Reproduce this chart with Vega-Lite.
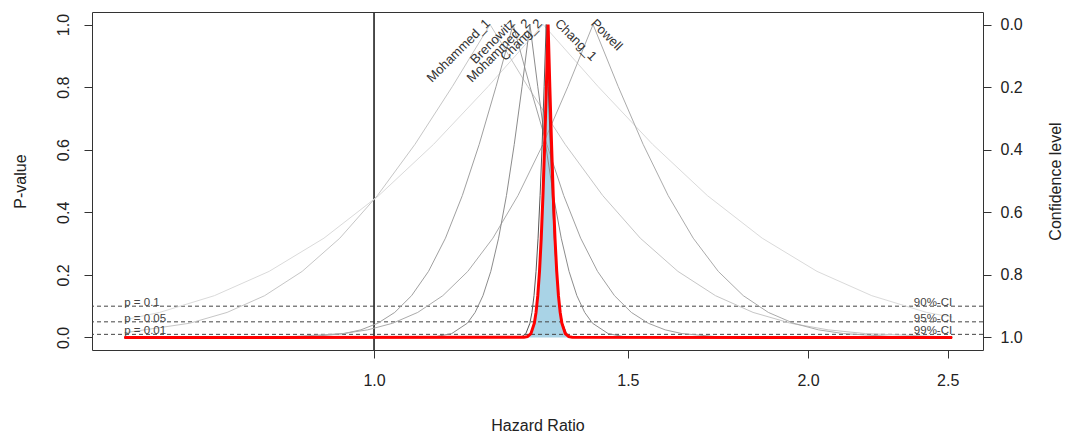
{
  "$schema": "https://vega.github.io/schema/vega-lite/v6.json",
  "width": 891,
  "height": 338,
  "autosize": {"type": "none"},
  "padding": {"left": 92, "top": 12, "right": 84, "bottom": 85},
  "config": {
    "view": {"stroke": "#333333", "strokeWidth": 1},
    "font": "Liberation Sans",
    "axis": {"grid": false, "domain": false, "tickColor": "#333333", "tickSize": 8, "labelColor": "#222222", "titleColor": "#222222", "labelFontSize": 16, "titleFontSize": 16, "titleFontWeight": "normal", "labelFont": "Liberation Sans", "titleFont": "Liberation Sans"}
  },
  "datasets": {
    "curves": [
      {"study": "Chang_1", "hr": 0.671, "p": 0.056},
      {"study": "Chang_1", "hr": 0.71, "p": 0.0801},
      {"study": "Chang_1", "hr": 0.7749, "p": 0.1336},
      {"study": "Chang_1", "hr": 0.8458, "p": 0.2113},
      {"study": "Chang_1", "hr": 0.9231, "p": 0.3173},
      {"study": "Chang_1", "hr": 1.0075, "p": 0.4533},
      {"study": "Chang_1", "hr": 1.0997, "p": 0.6171},
      {"study": "Chang_1", "hr": 1.2002, "p": 0.8026},
      {"study": "Chang_1", "hr": 1.31, "p": 1},
      {"study": "Chang_1", "hr": 1.4298, "p": 0.8026},
      {"study": "Chang_1", "hr": 1.5605, "p": 0.6171},
      {"study": "Chang_1", "hr": 1.7032, "p": 0.4533},
      {"study": "Chang_1", "hr": 1.8589, "p": 0.3173},
      {"study": "Chang_1", "hr": 2.0289, "p": 0.2113},
      {"study": "Chang_1", "hr": 2.2144, "p": 0.1336},
      {"study": "Chang_1", "hr": 2.4169, "p": 0.0801},
      {"study": "Chang_1", "hr": 2.518, "p": 0.065},

      {"study": "Mohammed_1", "hr": 0.671, "p": 0.0149},
      {"study": "Mohammed_1", "hr": 0.7448, "p": 0.0455},
      {"study": "Mohammed_1", "hr": 0.7908, "p": 0.0801},
      {"study": "Mohammed_1", "hr": 0.8397, "p": 0.1336},
      {"study": "Mohammed_1", "hr": 0.8916, "p": 0.2113},
      {"study": "Mohammed_1", "hr": 0.9468, "p": 0.3173},
      {"study": "Mohammed_1", "hr": 1.0053, "p": 0.4533},
      {"study": "Mohammed_1", "hr": 1.0675, "p": 0.6171},
      {"study": "Mohammed_1", "hr": 1.1335, "p": 0.8026},
      {"study": "Mohammed_1", "hr": 1.2036, "p": 1},
      {"study": "Mohammed_1", "hr": 1.278, "p": 0.8026},
      {"study": "Mohammed_1", "hr": 1.357, "p": 0.6171},
      {"study": "Mohammed_1", "hr": 1.441, "p": 0.4533},
      {"study": "Mohammed_1", "hr": 1.53, "p": 0.3173},
      {"study": "Mohammed_1", "hr": 1.6247, "p": 0.2113},
      {"study": "Mohammed_1", "hr": 1.7252, "p": 0.1336},
      {"study": "Mohammed_1", "hr": 1.832, "p": 0.0801},
      {"study": "Mohammed_1", "hr": 1.9452, "p": 0.0455},
      {"study": "Mohammed_1", "hr": 2.0654, "p": 0.0244},
      {"study": "Mohammed_1", "hr": 2.193, "p": 0.0124},
      {"study": "Mohammed_1", "hr": 2.4727, "p": 0.0027},
      {"study": "Mohammed_1", "hr": 2.518, "p": 0.0021},

      {"study": "Brenowitz", "hr": 0.671, "p": 0},
      {"study": "Brenowitz", "hr": 0.8106, "p": 0.0001},
      {"study": "Brenowitz", "hr": 0.8556, "p": 0.0005},
      {"study": "Brenowitz", "hr": 0.903, "p": 0.0027},
      {"study": "Brenowitz", "hr": 0.9531, "p": 0.0124},
      {"study": "Brenowitz", "hr": 0.9792, "p": 0.0244},
      {"study": "Brenowitz", "hr": 1.006, "p": 0.0455},
      {"study": "Brenowitz", "hr": 1.0336, "p": 0.0801},
      {"study": "Brenowitz", "hr": 1.0618, "p": 0.1336},
      {"study": "Brenowitz", "hr": 1.0909, "p": 0.2113},
      {"study": "Brenowitz", "hr": 1.1208, "p": 0.3173},
      {"study": "Brenowitz", "hr": 1.1514, "p": 0.4533},
      {"study": "Brenowitz", "hr": 1.1829, "p": 0.6171},
      {"study": "Brenowitz", "hr": 1.2153, "p": 0.8026},
      {"study": "Brenowitz", "hr": 1.2486, "p": 1},
      {"study": "Brenowitz", "hr": 1.2827, "p": 0.8026},
      {"study": "Brenowitz", "hr": 1.3178, "p": 0.6171},
      {"study": "Brenowitz", "hr": 1.3539, "p": 0.4533},
      {"study": "Brenowitz", "hr": 1.391, "p": 0.3173},
      {"study": "Brenowitz", "hr": 1.429, "p": 0.2113},
      {"study": "Brenowitz", "hr": 1.4682, "p": 0.1336},
      {"study": "Brenowitz", "hr": 1.5083, "p": 0.0801},
      {"study": "Brenowitz", "hr": 1.5496, "p": 0.0455},
      {"study": "Brenowitz", "hr": 1.592, "p": 0.0244},
      {"study": "Brenowitz", "hr": 1.6356, "p": 0.0124},
      {"study": "Brenowitz", "hr": 1.7263, "p": 0.0027},
      {"study": "Brenowitz", "hr": 1.8221, "p": 0.0005},
      {"study": "Brenowitz", "hr": 1.9233, "p": 0.0001},
      {"study": "Brenowitz", "hr": 2.518, "p": 0},

      {"study": "Powell", "hr": 0.671, "p": 0},
      {"study": "Powell", "hr": 0.8104, "p": 0.0005},
      {"study": "Powell", "hr": 0.8779, "p": 0.0027},
      {"study": "Powell", "hr": 0.951, "p": 0.0124},
      {"study": "Powell", "hr": 0.9899, "p": 0.0244},
      {"study": "Powell", "hr": 1.0302, "p": 0.0455},
      {"study": "Powell", "hr": 1.0723, "p": 0.0801},
      {"study": "Powell", "hr": 1.1161, "p": 0.1336},
      {"study": "Powell", "hr": 1.1616, "p": 0.2113},
      {"study": "Powell", "hr": 1.209, "p": 0.3173},
      {"study": "Powell", "hr": 1.2584, "p": 0.4533},
      {"study": "Powell", "hr": 1.3097, "p": 0.6171},
      {"study": "Powell", "hr": 1.3632, "p": 0.8026},
      {"study": "Powell", "hr": 1.4188, "p": 1},
      {"study": "Powell", "hr": 1.4767, "p": 0.8026},
      {"study": "Powell", "hr": 1.537, "p": 0.6171},
      {"study": "Powell", "hr": 1.5997, "p": 0.4533},
      {"study": "Powell", "hr": 1.665, "p": 0.3173},
      {"study": "Powell", "hr": 1.7329, "p": 0.2113},
      {"study": "Powell", "hr": 1.8036, "p": 0.1336},
      {"study": "Powell", "hr": 1.8772, "p": 0.0801},
      {"study": "Powell", "hr": 1.9539, "p": 0.0455},
      {"study": "Powell", "hr": 2.0337, "p": 0.0244},
      {"study": "Powell", "hr": 2.1167, "p": 0.0124},
      {"study": "Powell", "hr": 2.2928, "p": 0.0027},
      {"study": "Powell", "hr": 2.4838, "p": 0.0005},
      {"study": "Powell", "hr": 2.518, "p": 0.0003},

      {"study": "Mohammed_2", "hr": 0.671, "p": 0},
      {"study": "Mohammed_2", "hr": 1.0768, "p": 0.0005},
      {"study": "Mohammed_2", "hr": 1.104, "p": 0.0027},
      {"study": "Mohammed_2", "hr": 1.132, "p": 0.0124},
      {"study": "Mohammed_2", "hr": 1.1606, "p": 0.0455},
      {"study": "Mohammed_2", "hr": 1.1752, "p": 0.0801},
      {"study": "Mohammed_2", "hr": 1.19, "p": 0.1336},
      {"study": "Mohammed_2", "hr": 1.205, "p": 0.2113},
      {"study": "Mohammed_2", "hr": 1.2201, "p": 0.3173},
      {"study": "Mohammed_2", "hr": 1.2355, "p": 0.4533},
      {"study": "Mohammed_2", "hr": 1.251, "p": 0.6171},
      {"study": "Mohammed_2", "hr": 1.2668, "p": 0.8026},
      {"study": "Mohammed_2", "hr": 1.2827, "p": 1},
      {"study": "Mohammed_2", "hr": 1.2988, "p": 0.8026},
      {"study": "Mohammed_2", "hr": 1.3152, "p": 0.6171},
      {"study": "Mohammed_2", "hr": 1.3317, "p": 0.4533},
      {"study": "Mohammed_2", "hr": 1.3485, "p": 0.3173},
      {"study": "Mohammed_2", "hr": 1.3654, "p": 0.2113},
      {"study": "Mohammed_2", "hr": 1.3826, "p": 0.1336},
      {"study": "Mohammed_2", "hr": 1.4, "p": 0.0801},
      {"study": "Mohammed_2", "hr": 1.4176, "p": 0.0455},
      {"study": "Mohammed_2", "hr": 1.4535, "p": 0.0124},
      {"study": "Mohammed_2", "hr": 1.4903, "p": 0.0027},
      {"study": "Mohammed_2", "hr": 1.528, "p": 0.0005},
      {"study": "Mohammed_2", "hr": 2.518, "p": 0},

      {"study": "Chang_2", "hr": 0.671, "p": 0},
      {"study": "Chang_2", "hr": 1.2579, "p": 0.0005},
      {"study": "Chang_2", "hr": 1.2661, "p": 0.0027},
      {"study": "Chang_2", "hr": 1.2744, "p": 0.0124},
      {"study": "Chang_2", "hr": 1.2827, "p": 0.0455},
      {"study": "Chang_2", "hr": 1.2869, "p": 0.0801},
      {"study": "Chang_2", "hr": 1.2911, "p": 0.1336},
      {"study": "Chang_2", "hr": 1.2953, "p": 0.2113},
      {"study": "Chang_2", "hr": 1.2995, "p": 0.3173},
      {"study": "Chang_2", "hr": 1.3037, "p": 0.4533},
      {"study": "Chang_2", "hr": 1.308, "p": 0.6171},
      {"study": "Chang_2", "hr": 1.3122, "p": 0.8026},
      {"study": "Chang_2", "hr": 1.3165, "p": 1},
      {"study": "Chang_2", "hr": 1.3208, "p": 0.8026},
      {"study": "Chang_2", "hr": 1.3251, "p": 0.6171},
      {"study": "Chang_2", "hr": 1.3294, "p": 0.4533},
      {"study": "Chang_2", "hr": 1.3337, "p": 0.3173},
      {"study": "Chang_2", "hr": 1.3381, "p": 0.2113},
      {"study": "Chang_2", "hr": 1.3424, "p": 0.1336},
      {"study": "Chang_2", "hr": 1.3468, "p": 0.0801},
      {"study": "Chang_2", "hr": 1.3512, "p": 0.0455},
      {"study": "Chang_2", "hr": 1.36, "p": 0.0124},
      {"study": "Chang_2", "hr": 1.3689, "p": 0.0027},
      {"study": "Chang_2", "hr": 1.3778, "p": 0.0005},
      {"study": "Chang_2", "hr": 2.518, "p": 0}
    ],
    "pooled": [
      {"hr": 0.671, "p": 0},
      {"hr": 1.2706, "p": 0.0005},
      {"hr": 1.2776, "p": 0.0027},
      {"hr": 1.2847, "p": 0.0124},
      {"hr": 1.2918, "p": 0.0455},
      {"hr": 1.2953, "p": 0.0801},
      {"hr": 1.2989, "p": 0.1336},
      {"hr": 1.3025, "p": 0.2113},
      {"hr": 1.3061, "p": 0.3173},
      {"hr": 1.3097, "p": 0.4533},
      {"hr": 1.3133, "p": 0.6171},
      {"hr": 1.3169, "p": 0.8026},
      {"hr": 1.3205, "p": 1},
      {"hr": 1.3241, "p": 0.8026},
      {"hr": 1.3278, "p": 0.6171},
      {"hr": 1.3314, "p": 0.4533},
      {"hr": 1.3351, "p": 0.3173},
      {"hr": 1.3388, "p": 0.2113},
      {"hr": 1.3425, "p": 0.1336},
      {"hr": 1.3462, "p": 0.0801},
      {"hr": 1.3499, "p": 0.0455},
      {"hr": 1.3573, "p": 0.0124},
      {"hr": 1.3648, "p": 0.0027},
      {"hr": 1.3723, "p": 0.0005},
      {"hr": 2.518, "p": 0}
    ],
    "levels": [
      {"p": 0.1, "label": "p = 0.1", "conf": 0.9, "ci": "90%-CI"},
      {"p": 0.05, "label": "p = 0.05", "conf": 0.95, "ci": "95%-CI"},
      {"p": 0.01, "label": "p = 0.01", "conf": 0.99, "ci": "99%-CI"}
    ],
    "labels": [
      {"study": "Mohammed_1", "hr": 1.1997, "p": 1.01, "side": "left"},
      {"study": "Brenowitz", "hr": 1.2486, "p": 1.01, "side": "left"},
      {"study": "Mohammed_2", "hr": 1.2789, "p": 1.01, "side": "left"},
      {"study": "Chang_2", "hr": 1.3037, "p": 1.01, "side": "left"},
      {"study": "Chang_1", "hr": 1.3395, "p": 1.01, "side": "right"},
      {"study": "Powell", "hr": 1.4188, "p": 1.01, "side": "right"}
    ]
  },
  "layer": [
    {
      "layer": [
        {
          "data": {"name": "pooled"},
          "mark": {"type": "area", "color": "#a9d3e6", "opacity": 1},
          "encoding": {
            "x": {"field": "hr", "type": "quantitative", "scale": {"type": "log", "domain": [0.6373, 2.645], "nice": false, "zero": false},
              "axis": {"values": [1, 1.5, 2, 2.5], "format": ".1f", "title": "Hazard Ratio", "labelPadding": 14, "titleX": 445.5, "titleY": 75, "titleBaseline": "middle", "titleAnchor": "middle"}},
            "y": {"field": "p", "type": "quantitative", "scale": {"domain": [-0.04, 1.04], "nice": false, "zero": false},
              "axis": {"orient": "left", "values": [0, 0.2, 0.4, 0.6, 0.8, 1], "format": ".1f", "title": "P-value", "labelAngle": 270, "labelAlign": "center", "labelBaseline": "bottom", "labelPadding": 13, "titleAngle": 270, "titleX": -72, "titleY": 169, "titleAlign": "center", "titleBaseline": "middle"}},
            "y2": {"datum": 0}
          }
        },
        {
          "data": {"name": "levels"},
          "mark": {"type": "rule", "color": "#444444", "strokeWidth": 1, "strokeDash": [4, 3]},
          "encoding": {"y": {"field": "p", "type": "quantitative"}}
        },
        {
          "data": {"name": "levels"},
          "mark": {"type": "rule", "color": "#333333", "strokeWidth": 1},
          "encoding": {"x": {"datum": 1, "type": "quantitative"}}
        },
        {
          "data": {"name": "curves"},
          "mark": {"type": "line", "strokeWidth": 1, "interpolate": "linear"},
          "encoding": {
            "x": {"field": "hr", "type": "quantitative"},
            "y": {"field": "p", "type": "quantitative"},
            "color": {"field": "study", "type": "nominal", "legend": null,
              "scale": {"domain": ["Chang_1", "Mohammed_1", "Powell", "Brenowitz", "Mohammed_2", "Chang_2"], "range": ["#dadada", "#c6c6c6", "#ababab", "#a0a0a0", "#8c8c8c", "#555555"]}}
          }
        },
        {
          "data": {"name": "pooled"},
          "mark": {"type": "line", "color": "#ff0000", "strokeWidth": 3},
          "encoding": {
            "x": {"field": "hr", "type": "quantitative"},
            "y": {"field": "p", "type": "quantitative"}
          }
        },
        {
          "data": {"name": "levels"},
          "mark": {"type": "text", "align": "left", "baseline": "alphabetic", "fontSize": 11.5, "color": "#444444"},
          "encoding": {
            "x": {"datum": 0.671, "type": "quantitative"},
            "y": {"field": "p", "type": "quantitative"},
            "text": {"field": "label"}
          }
        },
        {
          "data": {"name": "labels"},
          "transform": [{"filter": "datum.side == 'left'"}],
          "mark": {"type": "text", "align": "right", "baseline": "middle", "angle": 315, "fontSize": 13, "color": "#333333"},
          "encoding": {
            "x": {"field": "hr", "type": "quantitative"},
            "y": {"field": "p", "type": "quantitative"},
            "text": {"field": "study"}
          }
        },
        {
          "data": {"name": "labels"},
          "transform": [{"filter": "datum.side == 'right'"}],
          "mark": {"type": "text", "align": "left", "baseline": "middle", "angle": 45, "fontSize": 13, "color": "#333333"},
          "encoding": {
            "x": {"field": "hr", "type": "quantitative"},
            "y": {"field": "p", "type": "quantitative"},
            "text": {"field": "study"}
          }
        }
      ]
    },
    {
      "data": {"name": "levels"},
      "mark": {"type": "text", "align": "right", "baseline": "alphabetic", "fontSize": 11.5, "color": "#444444"},
      "encoding": {
        "x": {"datum": 2.518, "type": "quantitative"},
        "y": {"field": "conf", "type": "quantitative", "scale": {"domain": [-0.04, 1.04], "nice": false, "zero": false, "reverse": true},
          "axis": {"orient": "right", "values": [0, 0.2, 0.4, 0.6, 0.8, 1], "format": ".1f", "title": "Confidence level", "labelAlign": "left", "labelBaseline": "middle", "labelPadding": 9, "titleAngle": 270, "titleX": 72, "titleY": 169, "titleAlign": "center", "titleBaseline": "middle"}},
        "text": {"field": "ci"}
      }
    }
  ],
  "resolve": {"scale": {"y": "independent"}}
}
